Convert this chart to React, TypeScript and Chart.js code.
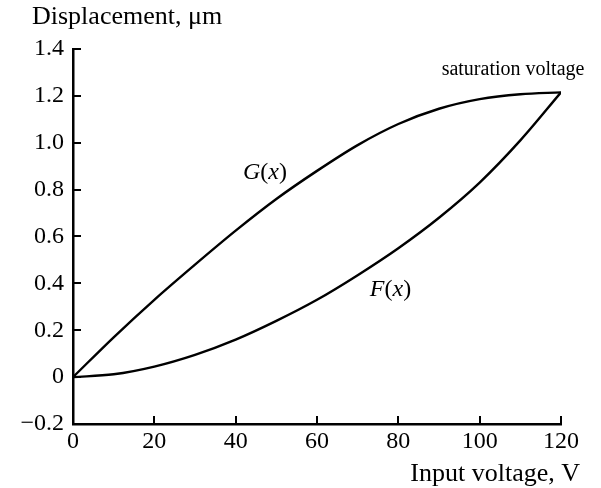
import { useEffect, useRef } from "react";
import { Chart, registerables } from "chart.js";

Chart.register(...registerables);

// Input voltage, V
const voltage = [0, 10, 20, 30, 40, 50, 60, 70, 80, 90, 100, 110, 120];
// G(x): upper branch, μm
const gDisplacement = [0, 0.17, 0.33, 0.48, 0.625, 0.76, 0.88, 0.99, 1.08, 1.145, 1.186, 1.207, 1.215];
// F(x): lower branch, μm
const fDisplacement = [0, 0.012, 0.045, 0.095, 0.16, 0.24, 0.33, 0.435, 0.55, 0.68, 0.83, 1.01, 1.215];

const xTickValues = [0, 20, 40, 60, 80, 100, 120];
const yTickValues = [-0.2, 0, 0.2, 0.4, 0.6, 0.8, 1.0, 1.2, 1.4];
const yTickLabels = ["\u22120.2", "0", "0.2", "0.4", "0.6", "0.8", "1.0", "1.2", "1.4"];

const yAxisTitle = "Displacement, \u03bcm";
const xAxisTitle = "Input voltage, V";
const saturationLabel = "saturation voltage";

// annotation anchors in data coordinates
const gLabelAt = { x: 41.8, y: 0.844 };
const fLabelAt = { x: 73.0, y: 0.347 };
const saturationLabelAt = { x: 108.2, y: 1.289 };

const FONT = "'Liberation Serif', 'Times New Roman', serif";

export default function App() {
  const ref = useRef<HTMLCanvasElement>(null);

  useEffect(() => {
    document.body.style.margin = "0";
    const canvas = ref.current;
    if (!canvas) return;

    const drawMath = (ctx: CanvasRenderingContext2D, parts: [string, boolean][], x: number, y: number, size: number) => {
      let cx = x;
      for (const [t, italic] of parts) {
        ctx.font = `${italic ? "italic " : ""}${size}px ${FONT}`;
        ctx.fillText(t, cx, y);
        cx += ctx.measureText(t).width;
      }
    };

    const overlay = {
      id: "overlay",
      afterDraw(chart: any) {
        const ctx: CanvasRenderingContext2D = chart.ctx;
        const xs = chart.scales.x;
        const ys = chart.scales.y;
        const left = xs.getPixelForValue(0);
        const bottom = ys.getPixelForValue(-0.2);
        ctx.save();
        ctx.strokeStyle = "#000";
        ctx.lineWidth = 2;
        ctx.beginPath();
        for (const v of xTickValues) {
          const px = Math.round(xs.getPixelForValue(v));
          ctx.moveTo(px, bottom);
          ctx.lineTo(px, bottom - 8);
        }
        for (const v of yTickValues) {
          const py = Math.round(ys.getPixelForValue(v));
          ctx.moveTo(left, py);
          ctx.lineTo(left + 8, py);
        }
        ctx.stroke();

        ctx.fillStyle = "#000";
        ctx.textBaseline = "alphabetic";
        ctx.textAlign = "left";
        ctx.font = `26px ${FONT}`;
        ctx.fillText(yAxisTitle, 32, 24);
        ctx.textAlign = "right";
        ctx.fillText(xAxisTitle, 580, 481);

        ctx.textAlign = "center";
        ctx.font = `20px ${FONT}`;
        ctx.fillText(saturationLabel, xs.getPixelForValue(saturationLabelAt.x), ys.getPixelForValue(saturationLabelAt.y));

        ctx.textAlign = "left";
        drawMath(ctx, [["G", true], ["(", false], ["x", true], [")", false]], xs.getPixelForValue(gLabelAt.x), ys.getPixelForValue(gLabelAt.y), 24);
        drawMath(ctx, [["F", true], ["(", false], ["x", true], [")", false]], xs.getPixelForValue(fLabelAt.x), ys.getPixelForValue(fLabelAt.y), 24);
        ctx.restore();
      },
    };

    const chart = new Chart(canvas, {
      type: "line",
      data: {
        datasets: [
          {
            label: "G(x)",
            data: voltage.map((v, i) => ({ x: v, y: gDisplacement[i] })),
            borderColor: "#000",
            borderWidth: 2.4,
            pointRadius: 0,
            cubicInterpolationMode: "monotone",
            fill: false,
          },
          {
            label: "F(x)",
            data: voltage.map((v, i) => ({ x: v, y: fDisplacement[i] })),
            borderColor: "#000",
            borderWidth: 2.4,
            pointRadius: 0,
            cubicInterpolationMode: "monotone",
            fill: false,
          },
        ],
      },
      options: {
        animation: false,
        responsive: false,
        devicePixelRatio: 1,
        layout: { padding: { left: 0, right: 40, top: 49, bottom: 0 } },
        plugins: { legend: { display: false }, tooltip: { enabled: false } },
        scales: {
          x: {
            type: "linear",
            min: 0,
            max: 120,
            afterFit: (s: any) => {
              s.height = 64;
            },
            afterBuildTicks: (s: any) => {
              s.ticks = xTickValues.map((v) => ({ value: v }));
            },
            ticks: {
              color: "#000",
              font: { family: FONT, size: 24 },
              padding: 3,
              maxRotation: 0,
              autoSkip: false,
              callback: (v: any) => String(v),
            },
            grid: { display: true, drawOnChartArea: false, drawTicks: false },
            border: { display: true, color: "#000", width: 2.5 },
          },
          y: {
            type: "linear",
            min: -0.2,
            max: 1.4,
            afterFit: (s: any) => {
              s.width = 73;
            },
            afterBuildTicks: (s: any) => {
              s.ticks = yTickValues.map((v) => ({ value: v }));
            },
            ticks: {
              color: "#000",
              font: { family: FONT, size: 24 },
              padding: 9,
              autoSkip: false,
              callback: (_v: any, i: number) => yTickLabels[i],
            },
            grid: { display: true, drawOnChartArea: false, drawTicks: false },
            border: { display: true, color: "#000", width: 2.5 },
          },
        },
      },
      plugins: [overlay],
    } as any);

    return () => chart.destroy();
  }, []);

  return (
    <div style={{ width: 601, height: 488, background: "#fff" }}>
      <canvas ref={ref} width={601} height={488} style={{ display: "block" }} />
    </div>
  );
}
